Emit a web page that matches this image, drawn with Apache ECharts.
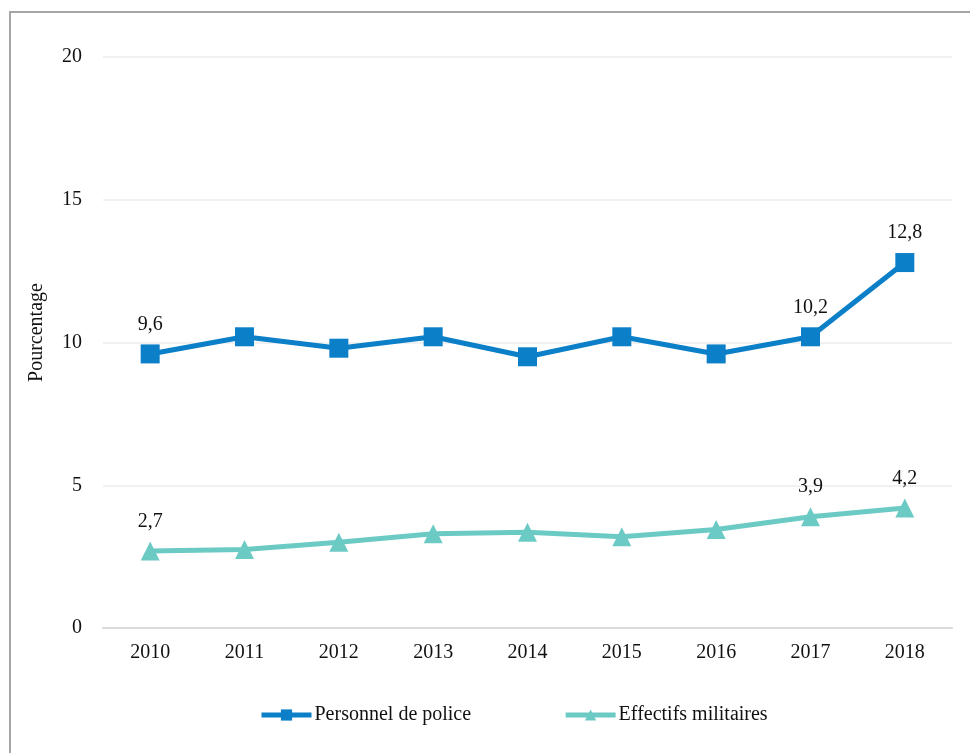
<!DOCTYPE html>
<html><head><meta charset="utf-8">
<script src="https://cdn.jsdelivr.net/npm/echarts@6/dist/echarts.min.js"></script>
<style>html,body{margin:0;padding:0;background:#fff}#c{width:970px;height:753px}</style>
</head><body><div id="c"></div>
<script>
var categories = ['2010','2011','2012','2013','2014','2015','2016','2017','2018'];
var police = [9.6, 10.2, 9.8, 10.2, 9.5, 10.2, 9.6, 10.2, 12.8];
var military = [2.7, 2.75, 3.0, 3.3, 3.35, 3.2, 3.45, 3.9, 4.2];
var policeLabelIdx = [0, 7, 8];
var militaryLabelIdx = [0, 7, 8];
var seriesNames = ['Personnel de police', 'Effectifs militaires'];
var yTicks = {min: 0, max: 20, interval: 5};
var yName = 'Pourcentage';

var font = '"Liberation Serif", "Times New Roman", serif';
function withLabels(vals, idx) {
  return vals.map(function (v, i) {
    return idx.indexOf(i) >= 0 ? {value: v, label: {show: true}} : v;
  });
}
function fmt(p) { return (Math.round(p.value * 10) / 10).toFixed(1).replace('.', ','); }
var chart = echarts.init(document.getElementById('c'));
chart.setOption({
  animation: false,
  graphic: [{type: 'rect', shape: {x: 10, y: 12, width: 1000, height: 800},
    style: {fill: 'none', stroke: '#a6a6a6', lineWidth: 2}, silent: true}],
  grid: {left: 103, right: 18, top: 57, bottom: 125},
  legend: {
    bottom: 23, left: 254, itemWidth: 50, itemHeight: 14, itemGap: 92,
    lineStyle: {width: 5},
    textStyle: {fontFamily: font, fontSize: 20, color: '#111', padding: [0, 0, 0, -2]},
    data: seriesNames
  },
  xAxis: {
    type: 'category', data: categories, boundaryGap: true,
    axisLine: {lineStyle: {color: '#d9d9d9', width: 2}},
    axisTick: {show: false},
    axisLabel: {fontFamily: font, fontSize: 20, color: '#111', margin: 15}
  },
  yAxis: {
    type: 'value', min: yTicks.min, max: yTicks.max, interval: yTicks.interval,
    name: yName, nameLocation: 'middle', nameGap: 56, nameRotate: 90,
    nameTextStyle: {fontFamily: font, fontSize: 20, color: '#111', padding: [0, 0, 0, 20]},
    axisLine: {show: false}, axisTick: {show: false},
    axisLabel: {fontFamily: font, fontSize: 20, color: '#111', margin: 21},
    splitLine: {lineStyle: {color: '#ececec', width: 1.5}}
  },
  series: [{
    name: seriesNames[0], type: 'line', data: withLabels(police, policeLabelIdx),
    symbol: 'rect', symbolSize: 19,
    lineStyle: {color: '#0b7fc7', width: 5}, itemStyle: {color: '#0b7fc7'},
    label: {show: false, position: 'top', distance: 10, fontFamily: font, fontSize: 20, color: '#111', formatter: fmt}
  }, {
    name: seriesNames[1], type: 'line', data: withLabels(military, militaryLabelIdx),
    symbol: 'triangle', symbolSize: 19,
    lineStyle: {color: '#6ccac5', width: 5}, itemStyle: {color: '#6ccac5'},
    label: {show: false, position: 'top', distance: 10, fontFamily: font, fontSize: 20, color: '#111', formatter: fmt}
  }]
});
</script></body></html>
